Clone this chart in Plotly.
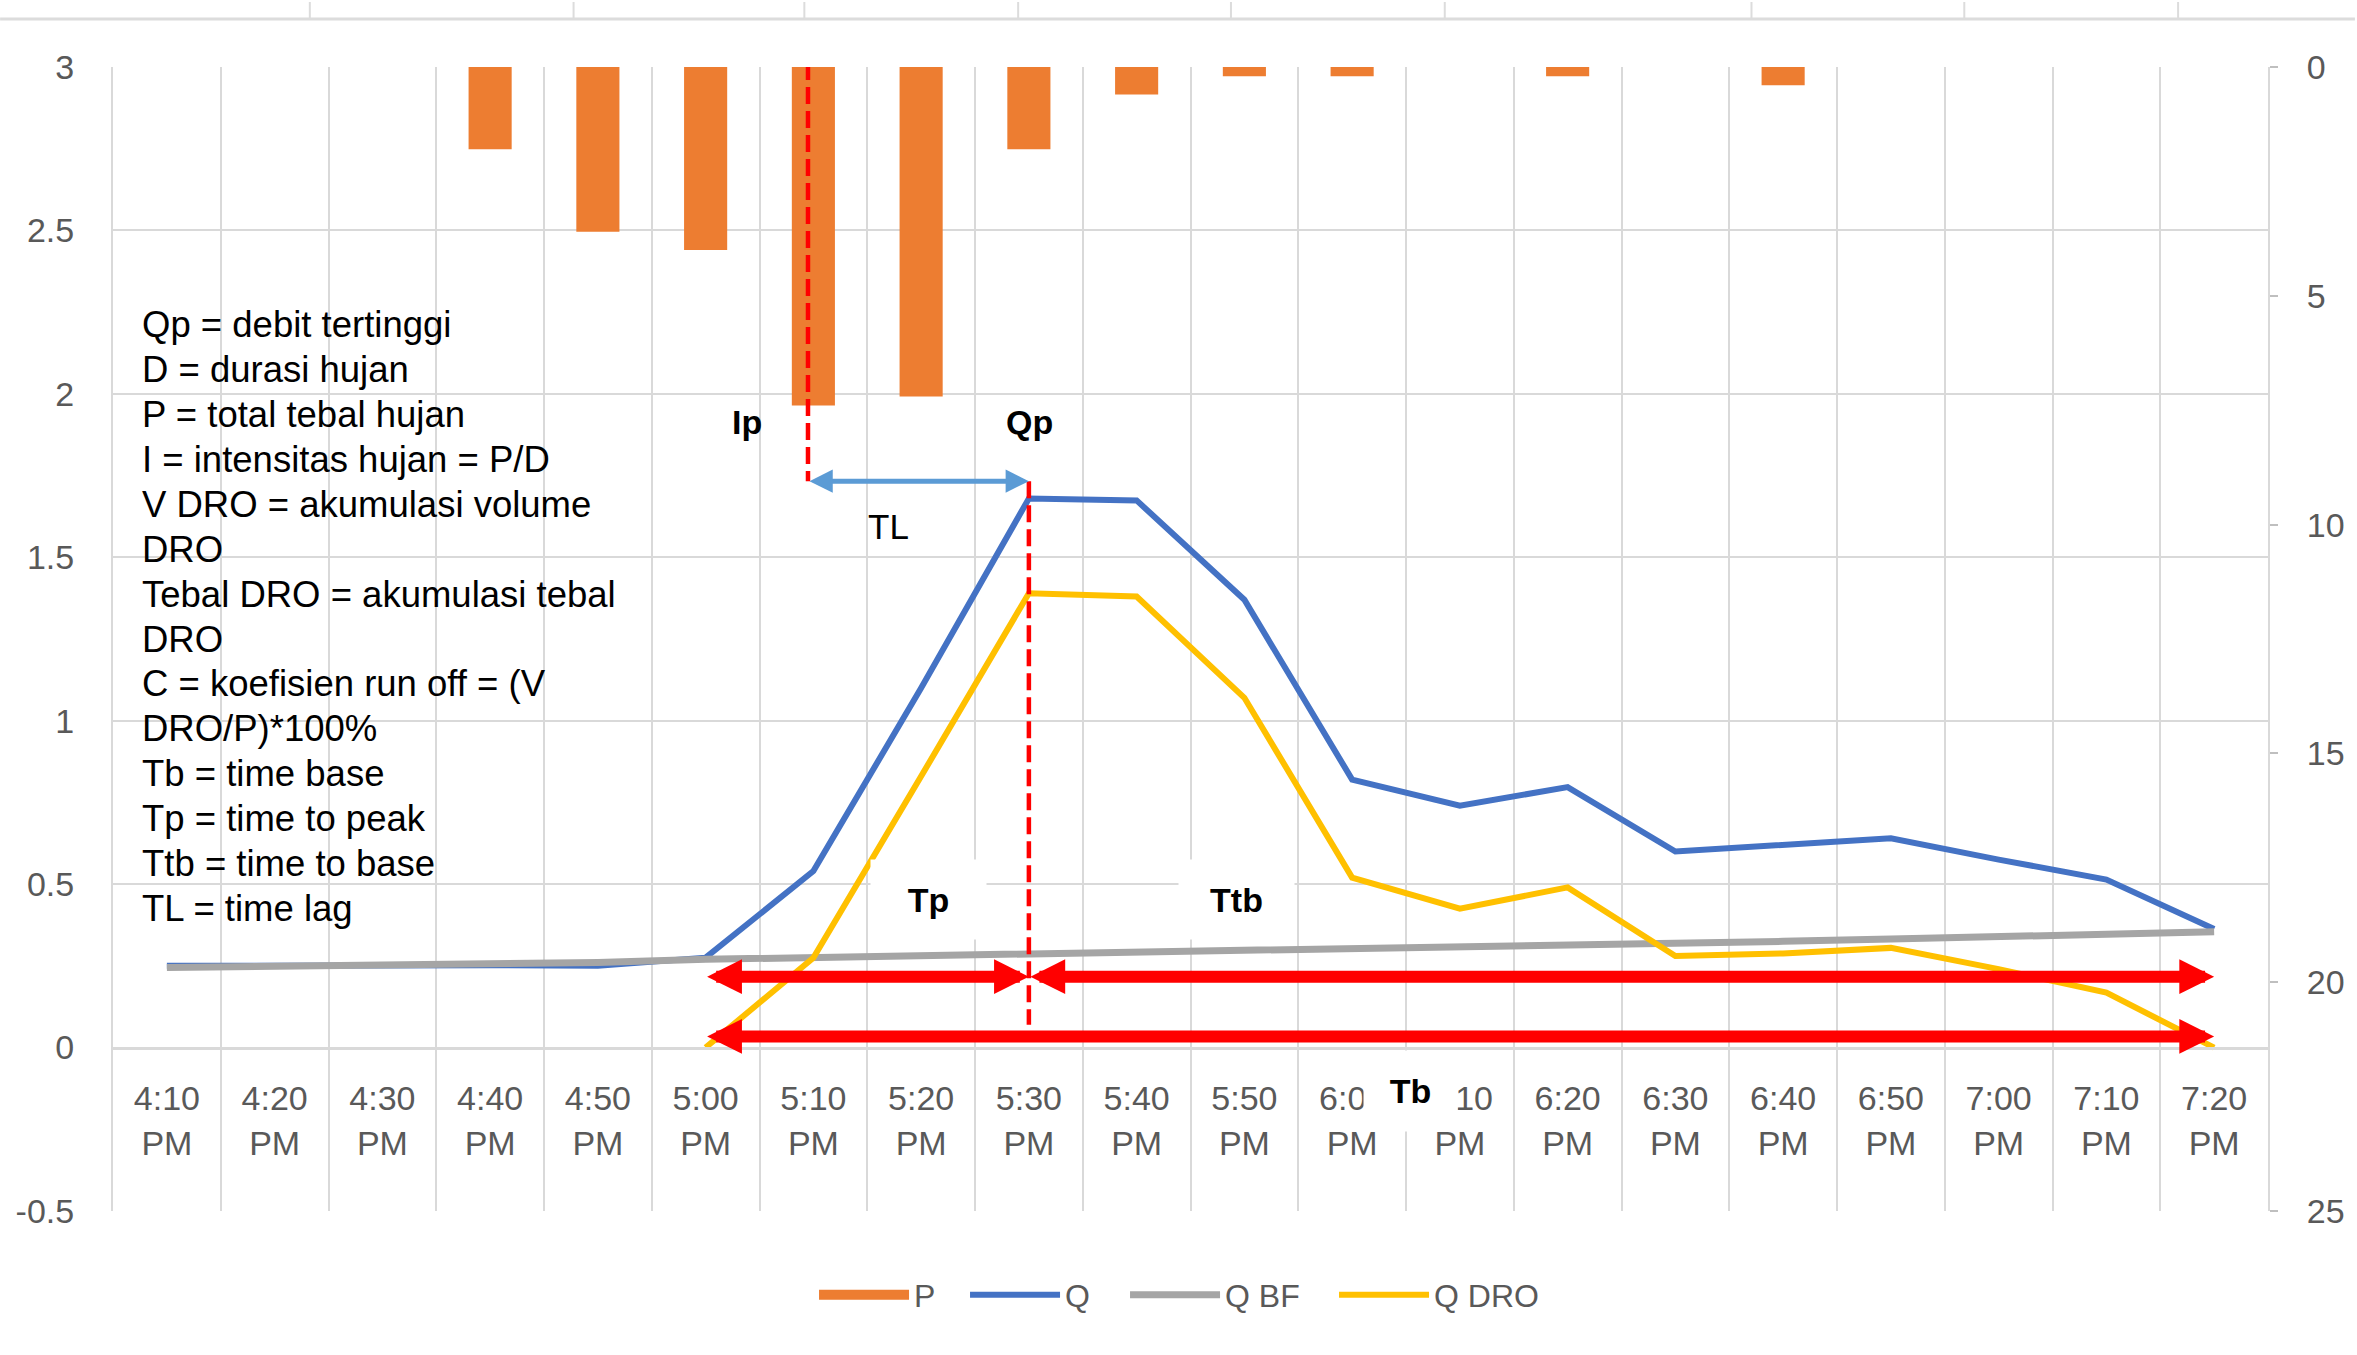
import plotly.graph_objects as go

# ---- data -------------------------------------------------------------
times = ["4:10 PM", "4:20 PM", "4:30 PM", "4:40 PM", "4:50 PM",
         "5:00 PM", "5:10 PM", "5:20 PM", "5:30 PM", "5:40 PM",
         "5:50 PM", "6:00 PM", "6:10 PM", "6:20 PM", "6:30 PM",
         "6:40 PM", "6:50 PM", "7:00 PM", "7:10 PM", "7:20 PM"]

# rainfall depth P (right axis, reversed)
p_rain = [0, 0, 0, 1.8, 3.6, 4.0, 7.4, 7.2, 1.8, 0.6,
          0.2, 0.2, 0, 0.2, 0, 0.4, 0, 0, 0, 0]

# total discharge Q
q_total = [0.25, 0.252, 0.252, 0.252, 0.25, 0.275, 0.54, 1.10, 1.68, 1.674,
           1.37, 0.82, 0.74, 0.797, 0.60, 0.62, 0.64, 0.575, 0.514, 0.363]

# base flow Q BF
q_bf = [0.245, 0.248, 0.25, 0.254, 0.26, 0.27, 0.275, 0.28, 0.29, 0.294,
        0.30, 0.30, 0.31, 0.312, 0.318, 0.325, 0.332, 0.338, 0.346, 0.354]

# direct runoff Q DRO
q_dro = [None, None, None, None, None, 0.0, 0.275, 0.83, 1.39, 1.38,
         1.07, 0.52, 0.425, 0.49, 0.28, 0.288, 0.305, 0.24, 0.168, 0.0]

left_ticks = [-0.5, 0, 0.5, 1, 1.5, 2, 2.5, 3]
left_labels = ["-0.5", "0", "0.5", "1", "1.5", "2", "2.5", "3"]
right_ticks = [0, 5, 10, 15, 20, 25]

notes = ["Qp = debit tertinggi", "D = durasi hujan", "P = total tebal hujan",
         "I = intensitas hujan = P/D", "V DRO = akumulasi volume", "DRO",
         "Tebal DRO = akumulasi tebal", "DRO",
         "C = koefisien run off = (V", "DRO/P)*100%",
         "Tb = time base", "Tp = time to peak", "Ttb = time to base",
         "TL = time lag"]

# ---- styling ----------------------------------------------------------
FONT = "Liberation Sans, Arial, sans-serif"
GRID = "#d9d9d9"
TICK_GRAY = "#595959"
ORANGE = "#ED7D31"
BLUE = "#4472C4"
GRAY = "#A5A5A5"
GOLD = "#FFC000"
RED = "#FF0000"
LIGHT_BLUE = "#5B9BD5"

fig = go.Figure()

# rainfall bars hang from the top of the reversed right axis
fig.add_trace(go.Bar(x=times, y=p_rain, name="P", yaxis="y2",
                     showlegend=False,
                     marker=dict(color=ORANGE, line=dict(width=0))))
# legend key for P drawn as a wide flat block
fig.add_trace(go.Scatter(x=[None], y=[None], name="P", mode="lines",
                         legendwidth=46,
                         line=dict(color=ORANGE, width=22)))
fig.add_trace(go.Scatter(x=times, y=q_total, name="Q", mode="lines",
                         legendwidth=55,
                         line=dict(color=BLUE, width=6)))
fig.add_trace(go.Scatter(x=times, y=q_bf, name="Q BF", mode="lines",
                         legendwidth=104,
                         line=dict(color=GRAY, width=7)))
fig.add_trace(go.Scatter(x=times, y=q_dro, name="Q DRO", mode="lines",
                         legendwidth=115,
                         line=dict(color=GOLD, width=6)))

y_min, y_max = left_ticks[0], left_ticks[-1]
zero_pos = (0 - y_min) / (y_max - y_min)

fig.update_layout(
    width=2357, height=1355,
    margin=dict(l=113, r=87, t=67, b=144),
    paper_bgcolor="white", plot_bgcolor="white",
    font=dict(family=FONT, color=TICK_GRAY, size=32),
    bargap=0.6,
    showlegend=True,
    legend=dict(orientation="h", x=0.497, xanchor="center",
                y=-0.0734, yanchor="middle",
                font=dict(size=32, color=TICK_GRAY, family=FONT),
                itemwidth=90, entrywidthmode="pixels",
                traceorder="normal"),
    xaxis=dict(
        type="category", categoryorder="array", categoryarray=times,
        tickmode="array", tickvals=times,
        ticktext=[t.replace(" ", "<br>") for t in times],
        tickson="boundaries", ticks="", showgrid=True,
        gridcolor=GRID, gridwidth=2,
        anchor="free", position=zero_pos,
        showline=True, linecolor=GRID, linewidth=3,
        ticklabelstandoff=20,
        tickfont=dict(size=34, color=TICK_GRAY, family=FONT),
        range=[-0.5, len(times) - 0.5], fixedrange=True,
    ),
    yaxis=dict(
        range=[y_min, y_max], tickmode="array", tickvals=left_ticks,
        ticktext=left_labels, showgrid=True, gridcolor=GRID, gridwidth=2,
        zeroline=False, showline=True, linecolor=GRID, linewidth=2,
        ticks="", ticklabelstandoff=30,
        tickfont=dict(size=34, color=TICK_GRAY, family=FONT),
    ),
    yaxis2=dict(
        range=[right_ticks[-1], right_ticks[0]], tickmode="array",
        tickvals=right_ticks, overlaying="y", side="right",
        showgrid=False, zeroline=False, showline=True, linecolor=GRID,
        linewidth=2, ticks="outside", ticklen=8, tickcolor="#bfbfbf",
        tickwidth=2, ticklabelstandoff=22,
        tickfont=dict(size=34, color=TICK_GRAY, family=FONT),
    ),
)

annotations = []

# definitions block, one line per annotation to keep an even pitch
note_top, note_step = 2.211, 0.1373
for i, line in enumerate(notes):
    annotations.append(dict(
        x=-0.25, y=note_top - i * note_step, xref="x", yref="y",
        xanchor="left", yanchor="middle", text=line, align="left",
        showarrow=False, font=dict(size=36.5, color="black", family=FONT)))

# bold markers
for txt, x, y in [("Ip", 5.38, 1.914), ("Qp", 8.01, 1.914)]:
    annotations.append(dict(x=x, y=y, xref="x", yref="y", text=f"<b>{txt}</b>",
                            showarrow=False,
                            font=dict(size=34, color="black", family=FONT)))

annotations.append(dict(x=6.695, y=1.593, xref="x", yref="y", text="TL",
                        showarrow=False,
                        font=dict(size=35, color="black", family=FONT)))

# labels on white boxes
for txt, x, y, w, h in [("Tp", 7.07, 0.452, 115, 79),
                        ("Ttb", 9.93, 0.452, 115, 79),
                        ("Tb", 11.54, -0.132, 93, 80)]:
    annotations.append(dict(x=x, y=y, xref="x", yref="y", text=f"<b>{txt}</b>",
                            showarrow=False, bgcolor="white", width=w, height=h,
                            borderpad=0,
                            font=dict(size=34, color="black", family=FONT)))


def double_arrow(x0, x1, y, color, width, size):
    return dict(x=x1, y=y, ax=x0, ay=y, xref="x", yref="y",
                axref="x", ayref="y", text="", showarrow=True,
                arrowhead=2, startarrowhead=2, arrowside="end+start",
                arrowsize=size, startarrowsize=size, arrowwidth=width,
                arrowcolor=color, standoff=0, startstandoff=0)


# time lag, time to peak, time to base, time base
annotations.append(double_arrow(5.95, 8.0, 1.733, LIGHT_BLUE, 5, 0.93))
annotations.append(double_arrow(5.0, 8.0, 0.217, RED, 12, 0.58))
annotations.append(double_arrow(8.0, 19.0, 0.217, RED, 12, 0.58))
annotations.append(double_arrow(5.0, 19.0, 0.034, RED, 12, 0.58))

fig.update_layout(annotations=annotations)

shapes = [
    dict(type="line", xref="x", yref="y", x0=5.95, x1=5.95, y0=3.012, y1=1.733,
         line=dict(color=RED, width=4.5, dash="17px,7px"), layer="above"),
    dict(type="line", xref="x", yref="y", x0=8.0, x1=8.0, y0=1.733, y1=0.07,
         line=dict(color=RED, width=4.5, dash="17px,7px"), layer="above"),
]

# faint frame edge along the top of the canvas
plot_left, plot_w, plot_bottom, plot_h = 113, 2157, 1211, 1144


def px_x(v):
    return (v - plot_left) / plot_w


def px_y(v):
    return (plot_bottom - v) / plot_h


shapes.append(dict(type="line", xref="paper", yref="paper",
                   x0=px_x(0), x1=px_x(2357), y0=px_y(19), y1=px_y(19),
                   line=dict(color="#dcdcdc", width=3), layer="below"))
for tx in [310, 574, 805, 1019, 1232, 1446, 1753, 1966, 2180]:
    shapes.append(dict(type="line", xref="paper", yref="paper",
                       x0=px_x(tx), x1=px_x(tx), y0=px_y(19), y1=px_y(2),
                       line=dict(color="#dcdcdc", width=2), layer="below"))

fig.update_layout(shapes=shapes)

fig.write_html("out.html")
